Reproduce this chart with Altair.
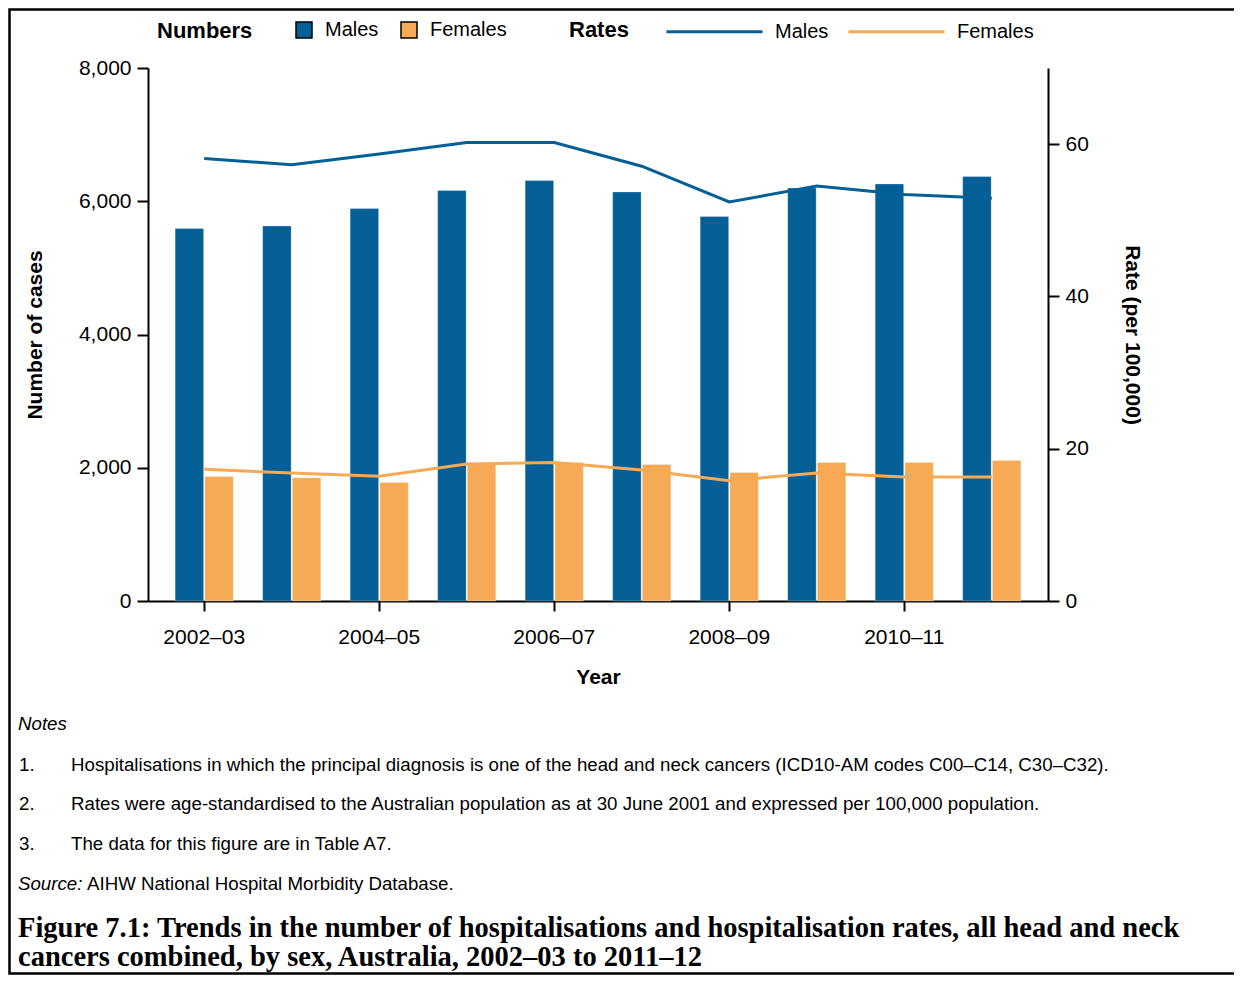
import altair as alt
import pandas as pd

# ---------------- data ----------------
years = ["2002–03", "2003–04", "2004–05", "2005–06", "2006–07",
         "2007–08", "2008–09", "2009–10", "2010–11", "2011–12"]
labelled_years = years[::2]
male_cases = [5590, 5630, 5890, 6160, 6310, 6140, 5770, 6200, 6260, 6370]
female_cases = [1870, 1850, 1780, 2060, 2080, 2050, 1930, 2080, 2080, 2110]
male_rate = [58.1, 57.3, 58.7, 60.2, 60.2, 57.1, 52.4, 54.5, 53.4, 52.9]
female_rate = [17.3, 16.8, 16.4, 18.0, 18.2, 17.2, 15.8, 16.8, 16.3, 16.3]
sexes = ["Males", "Females"]
case_ticks = [0, 2000, 4000, 6000, 8000]
rate_ticks = [0, 20, 40, 60]

rates_title = "Rates"
notes_head = "Notes"
notes = [
    "Hospitalisations in which the principal diagnosis is one of the head and neck cancers (ICD10-AM codes C00–C14, C30–C32).",
    "Rates were age-standardised to the Australian population as at 30 June 2001 and expressed per 100,000 population.",
    "The data for this figure are in Table A7.",
]
source_label = "Source:"
source_text = "AIHW National Hospital Morbidity Database."
caption = [
    "Figure 7.1: Trends in the number of hospitalisations and hospitalisation rates, all head and neck",
    "cancers combined, by sex, Australia, 2002–03 to 2011–12",
]

BLUE = "#035f95"
ORANGE = "#f7aa55"
SANS = "Liberation Sans"
SERIF = "Liberation Serif"

bars_df = pd.DataFrame({
    "year": years * 2,
    "sex": [sexes[0]] * len(years) + [sexes[1]] * len(years),
    "cases": male_cases + female_cases,
})
rates_df = pd.DataFrame({
    "year": years * 2,
    "series": [sexes[0]] * len(years) + [sexes[1]] * len(years),
    "rate": male_rate + female_rate,
})

W, H = 900, 533

x_enc = alt.X(
    "year:N", sort=years, title="Year",
    scale=alt.Scale(paddingInner=0.335, paddingOuter=0.31),
    axis=alt.Axis(values=labelled_years, labelAngle=0, tickSize=10,
                  labelPadding=15, titlePadding=19),
)

bars = alt.Chart(bars_df).mark_bar(stroke="white", strokeWidth=0.6, strokeOpacity=0.5).encode(
    x=x_enc,
    xOffset=alt.XOffset("sex:N", sort=sexes, scale=alt.Scale(paddingInner=0.04)),
    y=alt.Y("cases:Q", title="Number of cases",
            scale=alt.Scale(domain=[0, 8000], nice=False),
            axis=alt.Axis(values=case_ticks, format=",.0f", tickSize=11,
                          labelPadding=6, titlePadding=33)),
    fill=alt.Fill("sex:N", sort=sexes,
                  scale=alt.Scale(domain=sexes, range=[BLUE, ORANGE]),
                  legend=alt.Legend(
                      title="Numbers", orient="none", legendX=9, legendY=-48,
                      direction="horizontal", titleOrient="left",
                      titleAnchor="middle", titleBaseline="middle",
                      titlePadding=41, symbolType="square", symbolSize=256,
                      symbolStrokeColor="black", symbolStrokeWidth=1.5,
                      labelOffset=11, columnPadding=19,
                      labelFont=SANS, labelFontSize=20, titleFont=SANS,
                      titleFontSize=22, titleFontWeight="bold",
                      labelColor="black", titleColor="black")),
)

lines = alt.Chart(rates_df).mark_line(strokeWidth=3).encode(
    x=alt.X("year:N", sort=years),
    y=alt.Y("rate:Q", title="Rate (per 100,000)",
            scale=alt.Scale(domain=[0, 70], nice=False),
            axis=alt.Axis(values=rate_ticks, tickSize=11, labelPadding=6,
                          titlePadding=33, orient="right")),
    stroke=alt.Stroke("series:N", sort=sexes,
                      scale=alt.Scale(domain=sexes, range=[BLUE, ORANGE]),
                      legend=alt.Legend(
                          title=None, orient="none", legendX=517, legendY=-86,
                          direction="horizontal",
                          symbolType="stroke", symbolSize=9216,
                          symbolStrokeWidth=3, labelOffset=11, columnPadding=13,
                          labelFont=SANS, labelFontSize=20,
                          labelColor="black")),
)

one = pd.DataFrame({"k": [0]})


def txt(text, x, y, size=18.7, style="normal", weight="normal", font=SANS, baseline="middle"):
    return alt.Chart(one).mark_text(
        text=text, align="left", baseline=baseline, fontSize=size,
        fontStyle=style, fontWeight=weight, font=font, color="black",
    ).encode(x=alt.value(x), y=alt.value(y))


layers = [bars, lines]
layers.append(txt(rates_title, 421, -38, size=22, weight="bold"))
layers.append(txt(notes_head, -130, 656, style="italic"))
for i, (t, yy) in enumerate(zip(notes, [697, 736, 776])):
    layers.append(txt(f"{i + 1}.", -129, yy))
    layers.append(txt(t, -77, yy))
layers.append(txt(source_label, -130, 816, style="italic"))
layers.append(txt(source_text, -61, 816))
layers.append(txt(caption[0], -130, 869, size=28.5, weight="bold", font=SERIF, baseline="alphabetic"))
layers.append(txt(caption[1], -130, 898, size=28.5, weight="bold", font=SERIF, baseline="alphabetic"))

border = alt.Chart(one).mark_rect(fillOpacity=0, stroke="black", strokeWidth=2.5).encode(
    x=alt.value(-138.5), x2=alt.value(1100), y=alt.value(-58.5), y2=alt.value(905.5)
)
layers.append(border)

chart = alt.layer(*layers).resolve_scale(
    y="independent", fill="independent", stroke="independent"
).properties(
    width=W, height=H,
    autosize=alt.AutoSizeParams(type="none"),
    padding={"left": 140, "top": 60, "right": 186, "bottom": 374},
).configure_view(stroke=None).configure_axis(
    grid=False, domainColor="black", domainWidth=2, tickColor="black", tickWidth=2,
    labelFont=SANS, labelFontSize=21, labelColor="black",
    titleFont=SANS, titleFontSize=21, titleFontWeight="bold", titleColor="black",
)

chart.save("out.html", embed_options={"renderer": "svg", "actions": False})
